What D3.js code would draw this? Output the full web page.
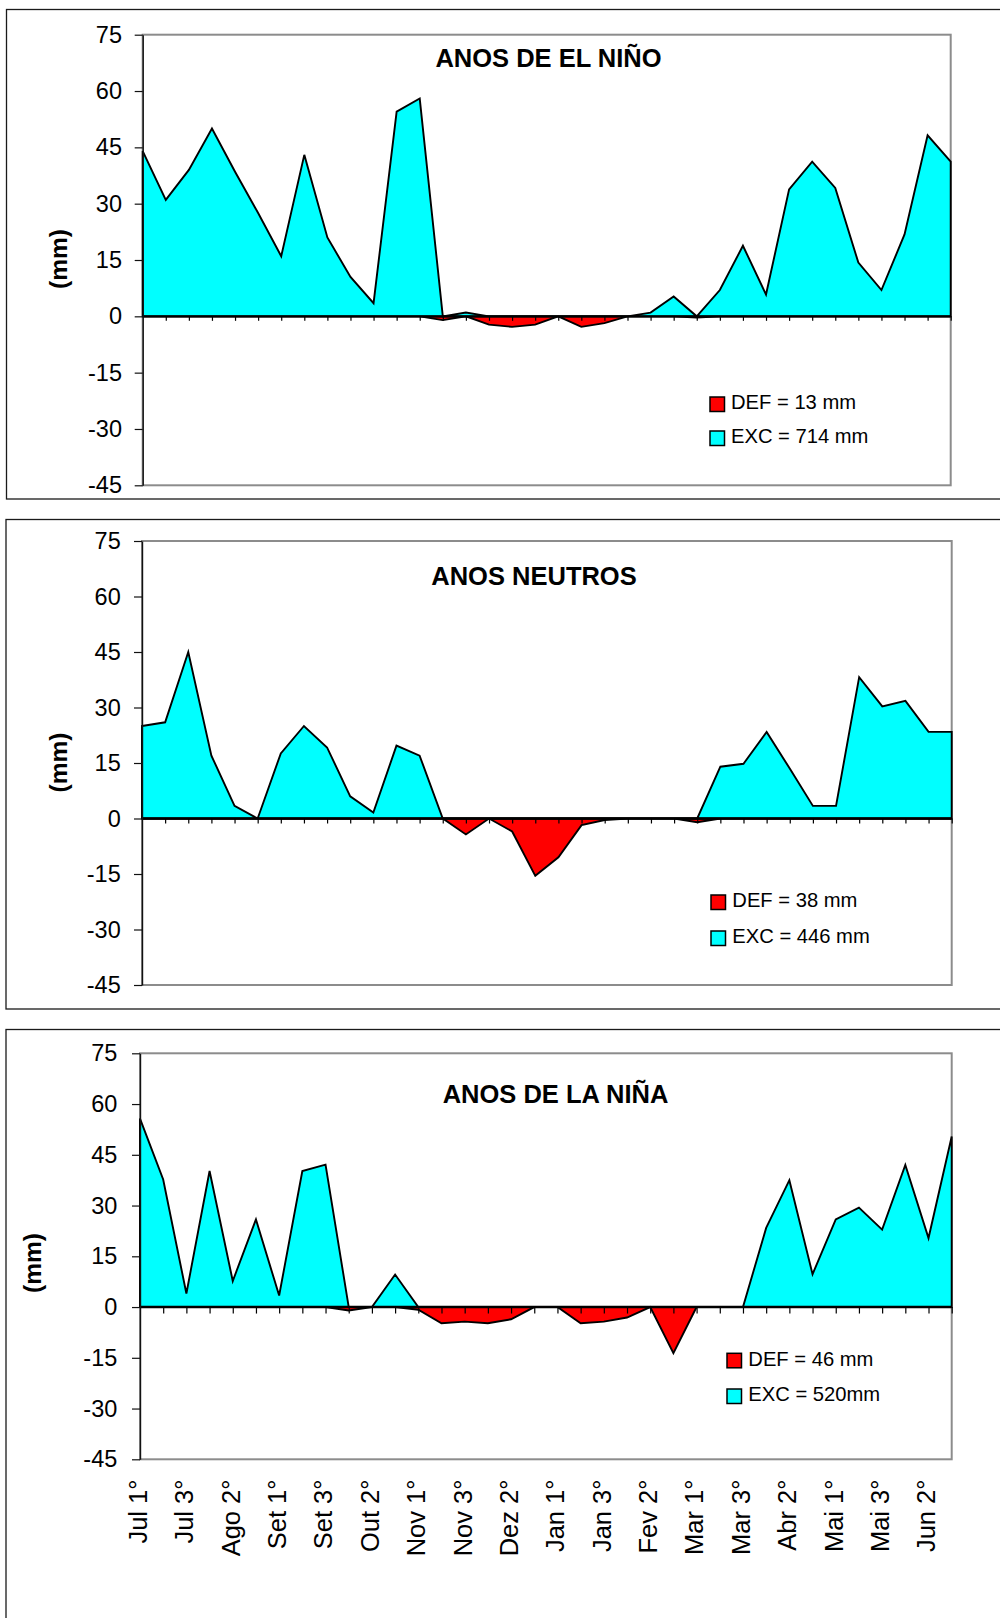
<!DOCTYPE html>
<html><head><meta charset="utf-8">
<script src="https://cdn.jsdelivr.net/npm/d3@7"></script>
<style>body{margin:0;background:#fff} svg{display:block}</style>
</head><body>
<svg id="c" width="1000" height="1618"></svg>
<script>
const categories = [
 "Jul 1°","Jul 2°","Jul 3°","Ago 1°","Ago 2°","Ago 3°","Set 1°","Set 2°","Set 3°",
 "Out 1°","Out 2°","Out 3°","Nov 1°","Nov 2°","Nov 3°","Dez 1°","Dez 2°","Dez 3°",
 "Jan 1°","Jan 2°","Jan 3°","Fev 1°","Fev 2°","Fev 3°","Mar 1°","Mar 2°","Mar 3°",
 "Abr 1°","Abr 2°","Abr 3°","Mai 1°","Mai 2°","Mai 3°","Jun 1°","Jun 2°","Jun 3°"];
const yTicks = [75,60,45,30,15,0,-15,-30,-45];

const elNinoExc = [44,31,39,50,38.5,27.5,16,43,21,10.5,3.5,54.5,58,0,1,0,0,0,0,0,0,0,1,5.3,0,7,18.8,5.8,33.8,41.2,34.2,14.3,7,21.8,48.2,41.2];
const elNinoDef = [0,0,0,0,0,0,0,0,0,0,0,0,0,-1,0,-2.2,-2.8,-2.2,0,-2.8,-1.8,0,0,0,-0.3,0,0,0,0,0,0,0,0,0,0,0];

const neutrosExc = [25,26,45,17,3.4,0,17.6,25,19.2,6,1.6,19.7,17,0,0,0,0,0,0,0,0,0,0,0,0,14,14.8,23.4,13.5,3.4,3.4,38.2,30.3,31.8,23.4,23.4];
const neutrosDef = [0,0,0,0,0,0,0,0,0,0,0,0,0,0,-4.3,0,-3.5,-15.5,-10.5,-1.8,-0.4,0,0,0,-1,0,0,0,0,0,0,0,0,0,0,0];

const ninaExc = [55.7,37.7,4,40.2,7.7,25.9,3.4,40.2,42.1,0,0,9.6,0,0,0,0,0,0,0,0,0,0,0,0,0,0,0,23.4,37.5,9.7,25.9,29.4,22.9,42,20.4,50.4];
const ninaDef = [0,0,0,0,0,0,0,0,0,-1,0,0,-0.8,-4.8,-4.3,-4.8,-3.6,0,0,-4.8,-4.3,-3.1,0,-13.6,0,0,0,0,0,0,0,0,0,0,0,0];

const titles = ["ANOS DE EL NIÑO","ANOS NEUTROS","ANOS DE LA NIÑA"];
const defLabels = ["DEF = 13 mm","DEF = 38 mm","DEF = 46 mm"];
const excLabels = ["EXC = 714 mm","EXC = 446 mm","EXC = 520mm"];
const yLabel = "(mm)";
const seriesExc = [elNinoExc, neutrosExc, ninaExc];
const seriesDef = [elNinoDef, neutrosDef, ninaDef];

const FONT = "Arial, 'Liberation Sans', sans-serif";
const CYAN = "#00FFFF", RED = "#FF0000";

const layouts = [
 {box:{x:6.5,y:9.5,w:1010,h:489.5}, plot:{l:142.7,t:34.7,r:950.7,b:485.3}, title:{x:548.5,y:66.7},
  leg:{sx:710,s1:397,s2:431,tx:731,b1:409.3,b2:443.3}, ylab:{x:58.7,y:259}, labX:122, xTick:4.5, showX:false},
 {box:{x:6,y:519.5,w:1010,h:489.5}, plot:{l:142,t:541,r:951.7,b:985}, title:{x:534,y:585},
  leg:{sx:711,s1:895,s2:931,tx:732.3,b1:907.3,b2:943.3}, ylab:{x:58.7,y:762.5}, labX:120.7, xTick:5, showX:false},
 {box:{x:6,y:1029.5,w:1010,h:700}, plot:{l:140,t:1053.3,r:951.7,b:1459.3}, title:{x:555.5,y:1103.3},
  leg:{sx:727,s1:1353.3,s2:1389,tx:748.3,b1:1365.7,b2:1401}, ylab:{x:32.3,y:1263}, labX:117.3, xTick:6.5, showX:true}
];

const svg = d3.select("#c");

layouts.forEach((L, p) => {
  const g = svg.append("g");
  g.append("rect").attr("x",L.box.x).attr("y",L.box.y).attr("width",L.box.w).attr("height",L.box.h)
   .attr("fill","none").attr("stroke","#1a1a1a").attr("stroke-width",1.3);

  const x = d3.scaleLinear().domain([0, categories.length-1]).range([L.plot.l, L.plot.r]);
  const y = d3.scaleLinear().domain([-45, 75]).range([L.plot.b, L.plot.t]);

  g.append("rect").attr("x",L.plot.l).attr("y",L.plot.t)
   .attr("width",L.plot.r-L.plot.l).attr("height",L.plot.b-L.plot.t)
   .attr("fill","none").attr("stroke","#8c8c8c").attr("stroke-width",2);

  const area = d3.area().x((d,i)=>x(i)).y0(y(0)).y1(d=>y(d));

  g.append("path").datum(seriesDef[p]).attr("d",area)
   .attr("fill",RED).attr("stroke","#000").attr("stroke-width",1.9).attr("stroke-linejoin","miter");
  g.append("path").datum(seriesExc[p]).attr("d",area)
   .attr("fill",CYAN).attr("stroke","#000").attr("stroke-width",1.9).attr("stroke-linejoin","miter");

  const xAxis = d3.axisBottom(x).tickValues(d3.range(1, categories.length)).tickSize(L.xTick).tickSizeOuter(0).tickFormat("");
  const xg = g.append("g").attr("transform",`translate(0,${y(0)})`).call(xAxis);
  xg.select(".domain").remove();
  xg.selectAll(".tick line").attr("stroke","#000").attr("stroke-width",1.2);
  g.append("line").attr("x1",L.plot.l).attr("x2",L.plot.r).attr("y1",y(0)).attr("y2",y(0))
   .attr("stroke","#000").attr("stroke-width",2.4);

  const yAxis = d3.axisLeft(y).tickValues(yTicks).tickSize(8).tickSizeOuter(0)
   .tickPadding(L.plot.l - L.labX - 8).tickFormat(d=>String(d));
  const yg = g.append("g").attr("transform",`translate(${L.plot.l},0)`).call(yAxis);
  yg.select(".domain").attr("stroke","#111").attr("stroke-width",1.4);
  yg.selectAll(".tick line").attr("stroke","#111").attr("stroke-width",1.2);
  yg.selectAll(".tick text").attr("font-family",FONT).attr("font-size",23.5).attr("fill","#000");

  g.append("text").attr("transform",`translate(${L.ylab.x},${L.ylab.y}) rotate(-90)`)
   .attr("text-anchor","middle").attr("dy","0.35em")
   .attr("font-family",FONT).attr("font-size",24.5).attr("font-weight","bold").text(yLabel);

  g.append("text").attr("x",L.title.x).attr("y",L.title.y).attr("text-anchor","middle")
   .attr("font-family",FONT).attr("font-size",25.5).attr("font-weight","bold").text(titles[p]);

  const legItems = [{c:RED, s:L.leg.s1, b:L.leg.b1, t:defLabels[p]}, {c:CYAN, s:L.leg.s2, b:L.leg.b2, t:excLabels[p]}];
  legItems.forEach(it => {
    g.append("rect").attr("x",L.leg.sx).attr("y",it.s).attr("width",14.5).attr("height",14.5)
     .attr("fill",it.c).attr("stroke","#000").attr("stroke-width",1.5);
    g.append("text").attr("x",L.leg.tx).attr("y",it.b).attr("font-family",FONT).attr("font-size",20.2)
     .text(it.t);
  });

  if (L.showX) {
    categories.forEach((c,i) => {
      if (i % 2 !== 0) return;
      g.append("text").attr("transform",`translate(${x(i)},${L.plot.b+20.2}) rotate(-90)`)
       .attr("text-anchor","end").attr("dy","0.27em")
       .attr("font-family",FONT).attr("font-size",25.5).text(c);
    });
  }
});
</script>
</body></html>
